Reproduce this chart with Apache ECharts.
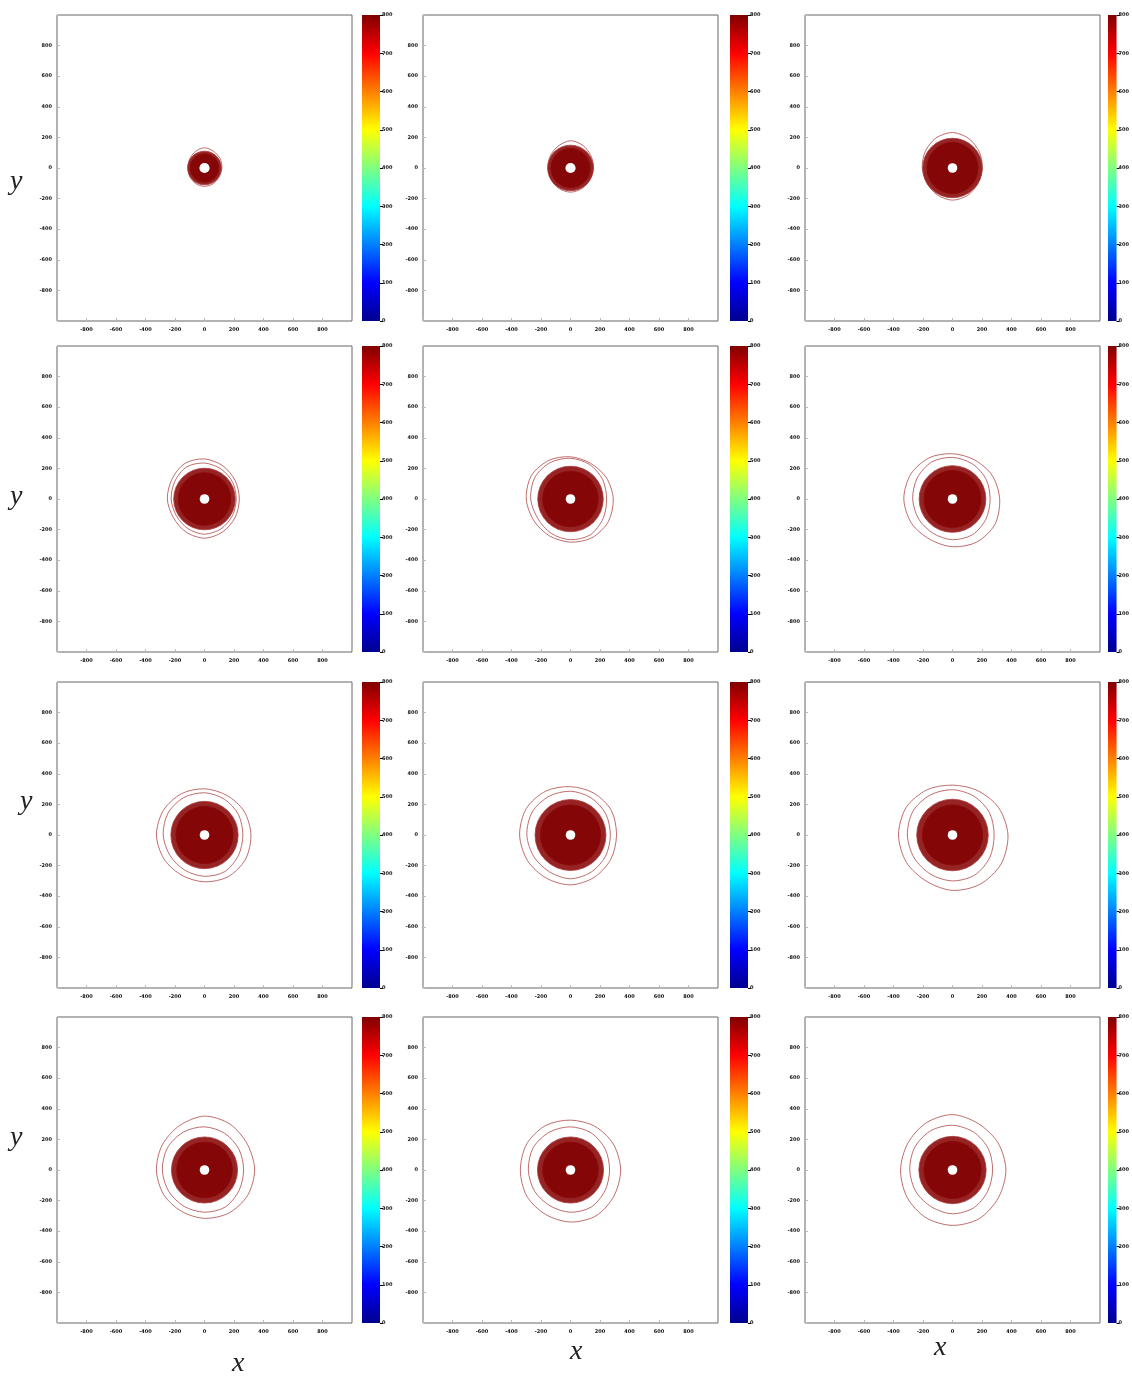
<!DOCTYPE html>
<html>
<head>
<meta charset="utf-8">
<title>Contour panels</title>
<script src="https://cdn.jsdelivr.net/npm/echarts@6/dist/echarts.min.js"></script>
<style>
  html, body { margin: 0; padding: 0; background: #fff; }
  #chart { width: 1132px; height: 1390px; }
</style>
</head>
<body>
<div id="chart"></div>
<script>
// axis ticks shared by every panel
const axisTicks = [-800, -600, -400, -200, 0, 200, 400, 600, 800];
const colorbarTicks = [0, 100, 200, 300, 400, 500, 600, 700, 800];

const contourAngles = [0, 30, 60, 90, 120, 150, 180, 210, 240, 270, 300, 330];

// dense core of each panel (row by row), radius in axis units
const coreRadius = [112, 152, 198, 205, 218, 222, 224, 236, 238, 220, 220, 224];
const innerCoreRadius = [95, 130, 170, 175, 185, 190, 190, 200, 200, 185, 185, 190];
const holeRadius = [34, 34, 32, 32, 32, 32, 32, 32, 32, 32, 32, 32];

// faint outer contour lines, radii at contourAngles
const contourLines = [
  [[118, 122, 125, 132, 124, 116, 112, 114, 118, 120, 118, 115]],
  [[156, 160, 170, 178, 166, 158, 152, 150, 155, 158, 155, 152]],
  [[202, 210, 222, 232, 226, 214, 205, 200, 204, 210, 206, 200]],
  [[215, 220, 226, 235, 242, 232, 226, 220, 224, 230, 225, 218],
   [236, 240, 250, 262, 268, 256, 252, 244, 250, 256, 248, 240]],
  [[245, 252, 260, 266, 275, 280, 270, 256, 260, 266, 270, 255],
   [290, 280, 270, 276, 292, 306, 300, 286, 280, 282, 292, 296]],
  [[255, 262, 266, 272, 280, 276, 270, 264, 260, 266, 270, 262],
   [320, 310, 296, 296, 312, 326, 330, 320, 305, 312, 326, 332]],
  [[260, 266, 270, 276, 282, 286, 280, 270, 266, 270, 276, 266],
   [315, 310, 300, 302, 312, 322, 326, 316, 305, 306, 316, 320]],
  [[270, 276, 280, 286, 292, 300, 296, 286, 280, 286, 280, 275],
   [312, 320, 316, 316, 332, 346, 345, 336, 326, 326, 320, 316]],
  [[282, 290, 292, 296, 302, 310, 306, 300, 296, 300, 302, 292],
   [376, 360, 336, 326, 342, 362, 366, 360, 350, 362, 372, 380]],
  [[265, 270, 276, 282, 286, 290, 286, 280, 275, 276, 280, 270],
   [340, 336, 346, 352, 336, 330, 326, 320, 312, 316, 326, 336]],
  [[265, 272, 280, 282, 286, 292, 286, 280, 272, 276, 280, 270],
   [340, 336, 330, 326, 336, 342, 340, 342, 336, 340, 346, 340]],
  [[272, 280, 286, 292, 296, 296, 290, 286, 280, 286, 286, 276],
   [362, 356, 350, 362, 356, 350, 352, 356, 360, 362, 366, 360]]
];

const frameLeft = [57, 423, 805];
const frameTop = [15, 346, 682, 1017];
const frameW = 295;
const frameH = 306;
const barLeft = [362, 730, 1108];
const barW = 18;

const chart = echarts.init(document.getElementById('chart'));

function toPoints(radii) {
  return radii.map((r, k) => {
    const a = contourAngles[k] * Math.PI / 180;
    return [r * Math.cos(a), r * Math.sin(a)];
  });
}

function lineSeries(gi, pts, style) {
  return {
    type: 'custom',
    xAxisIndex: gi,
    yAxisIndex: gi,
    silent: true,
    data: pts,
    renderItem: (params, api) => {
      if (params.dataIndex !== 0) return null;
      return {
        type: 'polygon',
        shape: { points: pts.map((p) => api.coord(p)), smooth: 0.3 },
        style: style
      };
    }
  };
}

// filled disc centred on the origin, radius in axis units
function discSeries(gi, r, style) {
  return {
    type: 'custom',
    xAxisIndex: gi,
    yAxisIndex: gi,
    silent: true,
    data: [[0, 0]],
    renderItem: (params, api) => {
      const c = api.coord([0, 0]);
      const s = api.size([r, r]);
      return { type: 'circle', shape: { cx: c[0], cy: c[1], r: (s[0] + s[1]) / 2 }, style: style };
    }
  };
}

const tickFmt = (v) => (axisTicks.includes(v) ? String(v) : '');
const labelStyle = { fontSize: 5, fontWeight: 'bold', color: '#111', fontFamily: 'DejaVu Sans' };

const grids = [], xAxes = [], yAxes = [], series = [];

for (let row = 0; row < 4; row++) {
  for (let col = 0; col < 3; col++) {
    const p = row * 3 + col;
    const gi = grids.length;
    grids.push({
      left: frameLeft[col], top: frameTop[row], width: frameW, height: frameH,
      show: true, borderColor: '#666', borderWidth: 1, backgroundColor: '#fff'
    });
    xAxes.push({
      gridIndex: gi, type: 'value', min: -1000, max: 1000, interval: 200,
      axisLine: { show: false, onZero: false }, splitLine: { show: false },
      axisTick: { inside: true, length: 3, lineStyle: { color: '#bbb' } },
      axisLabel: Object.assign({ formatter: tickFmt, margin: 6 }, labelStyle)
    });
    yAxes.push({
      gridIndex: gi, type: 'value', min: -1000, max: 1000, interval: 200,
      axisLine: { show: false, onZero: false }, splitLine: { show: false },
      axisTick: { inside: true, length: 3, lineStyle: { color: '#bbb' } },
      axisLabel: Object.assign({ formatter: tickFmt, margin: 5 }, labelStyle)
    });

    contourLines[p].forEach((radii) => {
      series.push(lineSeries(gi, toPoints(radii), { fill: 'none', stroke: '#b04848', lineWidth: 0.8 }));
    });
    series.push(discSeries(gi, coreRadius[p], { fill: 'rgba(140,12,12,0.9)', stroke: '#a83a3a', lineWidth: 0.8 }));
    series.push(discSeries(gi, innerCoreRadius[p], { fill: '#850606', stroke: '#8a0a0a', lineWidth: 1 }));
    series.push(discSeries(gi, holeRadius[p], { fill: '#fff' }));

    // colorbar
    const bi = grids.length;
    grids.push({ left: barLeft[col], top: frameTop[row], width: barW, height: frameH });
    xAxes.push({ gridIndex: bi, type: 'category', data: ['c'], show: false });
    yAxes.push({
      gridIndex: bi, type: 'value', position: 'right', min: 0, max: 800, interval: 100,
      axisLine: { show: false }, splitLine: { show: false },
      axisTick: { show: true, length: 3, lineStyle: { color: '#000' } },
      axisLabel: Object.assign({ margin: 2, formatter: (v) => (colorbarTicks.includes(v) ? String(v) : '') }, labelStyle)
    });
    series.push({
      type: 'bar', xAxisIndex: bi, yAxisIndex: bi, silent: true,
      barWidth: '100%', data: [800],
      itemStyle: {
        color: new echarts.graphic.LinearGradient(0, 0, 0, 1, [
          { offset: 0, color: '#800000' },
          { offset: 0.125, color: '#ff0000' },
          { offset: 0.375, color: '#ffff00' },
          { offset: 0.5, color: '#80ff80' },
          { offset: 0.625, color: '#00ffff' },
          { offset: 0.875, color: '#0000ff' },
          { offset: 1, color: '#00008f' }
        ])
      }
    });
  }
}

const serif = { fontFamily: 'Liberation Serif', fontStyle: 'italic', fontSize: 28, fill: '#222' };
const bigLabels = [
  ['y', 10, 168], ['y', 10, 483], ['y', 20, 788], ['y', 10, 1124],
  ['x', 232, 1350], ['x', 570, 1338], ['x', 934, 1334]
];

chart.setOption({
  animation: false,
  grid: grids,
  xAxis: xAxes,
  yAxis: yAxes,
  series: series,
  graphic: bigLabels.map(([t, l, tp]) => ({
    type: 'text', left: l, top: tp, style: Object.assign({ text: t }, serif)
  }))
});
</script>
</body>
</html>
